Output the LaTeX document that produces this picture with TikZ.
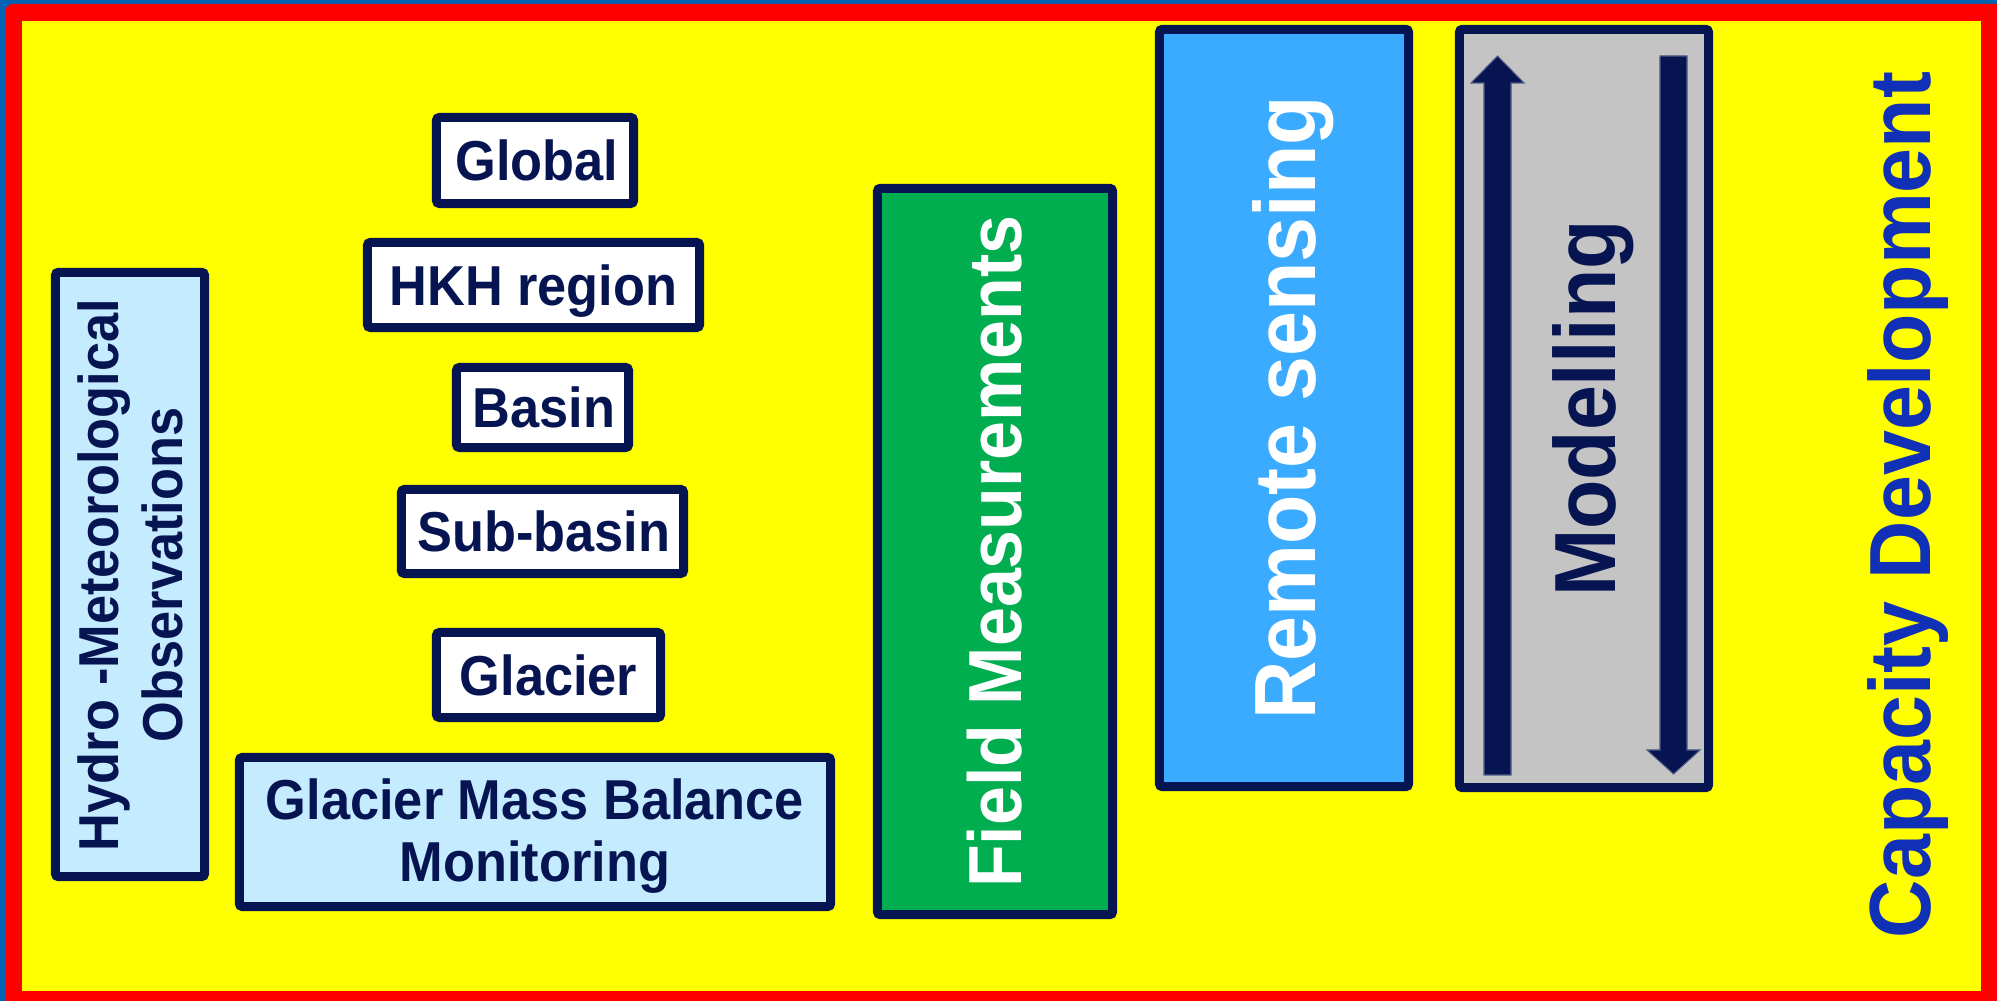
\documentclass[tikz,border=0pt]{standalone}
\usepackage{fontspec}
\setmainfont{Liberation Sans}[FakeStretch=0.93]
\definecolor{cnavy}{RGB}{6,20,82}
\definecolor{cbgblue}{RGB}{5,99,180}
\definecolor{cred}{RGB}{255,0,0}
\definecolor{cyel}{RGB}{255,255,0}
\definecolor{clight}{RGB}{197,235,255}
\definecolor{cgreen}{RGB}{0,173,79}
\definecolor{cremote}{RGB}{59,171,255}
\definecolor{cgrey}{RGB}{196,196,196}
\definecolor{ccap}{RGB}{16,48,184}
\begin{document}
\begin{tikzpicture}[x=0.01cm,y=-0.01cm,
  box/.style={draw=cnavy, line width=0.09cm, rounded corners=0.03cm, inner sep=0pt, text=cnavy,
    font=\bfseries\fontsize{16}{19}\selectfont, text height=11.46pt, text depth=0pt},
  bigbox/.style={box, rotate=90, font=\bfseries\fontsize{24.7}{29}\selectfont, text height=17.7pt},
  lbl/.style={inner sep=0pt, text=cnavy, font=\bfseries\fontsize{16}{19}\selectfont},
  arr/.style={fill=cnavy, draw=cnavy!70!white, line width=0.3pt}
]
\useasboundingbox (0,0) rectangle (1997,1001);
\clip (0,0) rectangle (1997,1001);
% frame
\fill[cbgblue] (0,0) rectangle (1997,1001);
\fill[cred, rounded corners=0.08cm] (5,4) rectangle (2015,1015);
\fill[cyel] (22,21) rectangle (1981,991);

% scale boxes
\node[box, fill=white, minimum width=1.97cm, minimum height=0.86cm] (global) at (535,160.5) {\hspace{0.04cm}Global};
\node[box, fill=white, minimum width=3.32cm, minimum height=0.85cm] (hkh) at (533.5,285) {HKH region};
\node[box, fill=white, minimum width=1.72cm, minimum height=0.80cm] (basin) at (542.5,407.5) {\hspace{0.03cm}Basin};
\node[box, fill=white, minimum width=2.82cm, minimum height=0.84cm] (subbasin) at (542.5,531.5) {\hspace{0.03cm}Sub-basin};
\node[box, fill=white, minimum width=2.24cm, minimum height=0.85cm] (glacier) at (548.5,675) {Glacier};

% glacier mass balance
\node[box, fill=clight, minimum width=5.91cm, minimum height=1.49cm] (gmb) at (535,832) {};
\node[lbl, anchor=base] (gmb1) at (535,820) {Glacier Mass Balance};
\node[lbl, anchor=base] (gmb2) at (535,882) {Monitoring};

% hydro-met
\node[box, fill=clight, minimum width=1.49cm, minimum height=6.04cm] (hydro) at (130,574.5) {};
\node[lbl, rotate=90, anchor=base] (hydro1) at (118,575) {Hydro -Meteorological};
\node[lbl, rotate=90, anchor=base] (hydro2) at (182,575) {Observations};

% field measurements
\node[bigbox, fill=cgreen, text=white, font=\bfseries\fontsize{21.4}{25}\selectfont, text height=15.3pt,
  minimum width=7.26cm, minimum height=2.35cm] (field) at (995,551.5) {Field Measurements};

% remote sensing
\node[bigbox, fill=cremote, text=white, minimum width=7.57cm, minimum height=2.49cm] (remote) at (1284,408) {Remote sensing};

% modelling
\node[bigbox, fill=cgrey, minimum width=7.58cm, minimum height=2.49cm] (model) at (1584,408.5) {Modelling};
\fill[arr] (1484,775) -- (1484,83) -- (1471,83) -- (1497.5,56) -- (1524,83) -- (1511,83) -- (1511,775) -- cycle;
\fill[arr] (1660,56) -- (1660,750) -- (1647,750) -- (1673.5,774) -- (1700,750) -- (1687,750) -- (1687,56) -- cycle;

% capacity development
\node[inner sep=0pt, rotate=90, anchor=base, text=ccap, font=\bfseries\fontsize{24.7}{29}\selectfont] (cap) at (1930,505) {Capacity Development};
\end{tikzpicture}
\end{document}
